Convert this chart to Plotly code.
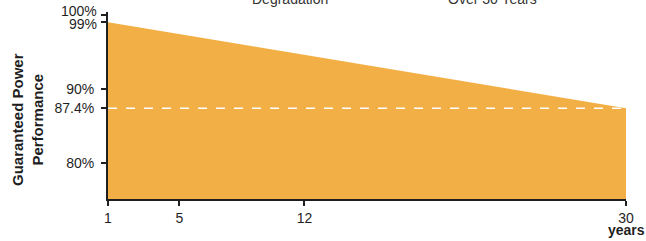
import plotly.graph_objects as go

# Data
years = [1, 30]
performance = [99.0, 87.4]
guarantee = 87.4
x_ticks = [1, 5, 12, 30]
x_tick_text = ["1", "5", "12", "30"]
y_ticks = [80, 87.4, 90]
y_tick_text = ["80%", "87.4%", "90%"]
y_top_labels = [(100, "100%", 4), (99, "99%", -2)]
top_texts = [("Degradation", 290), ("Over 30 Years", 492)]

W, H = 646, 241
ML, MR, MT, MB = 108, 20, 12, 42
PW = W - ML - MR
PH = H - MT - MB

FONT = "Liberation Sans, Arial, sans-serif"
INK = "#1f1f1f"

fig = go.Figure()
fig.add_trace(go.Scatter(
    x=years, y=performance, mode="lines", fill="tozeroy",
    line=dict(color="#F2AF46", width=0), fillcolor="#F2AF46",
    hoverinfo="skip", showlegend=False,
))
fig.add_hline(y=guarantee, line=dict(color="white", width=1.5, dash="dash"))

fig.update_layout(
    width=W, height=H,
    margin=dict(l=ML, r=MR, t=MT, b=MB, pad=0),
    paper_bgcolor="white", plot_bgcolor="white",
    font=dict(family=FONT, size=14, color=INK),
    showlegend=False,
    xaxis=dict(
        range=[1, 30], tickvals=x_ticks, ticktext=x_tick_text,
        showline=True, linecolor=INK, linewidth=2,
        ticks="outside", ticklen=5, tickwidth=1.5, tickcolor=INK,
        showgrid=False, zeroline=False, fixedrange=True,
        tickfont=dict(size=14, color=INK), ticklabelstandoff=0,
    ),
    yaxis=dict(
        range=[75.14, 100.4], tickvals=y_ticks + [v for v, _, _ in y_top_labels],
        ticktext=y_tick_text + ["" for _ in y_top_labels],
        showline=True, linecolor=INK, linewidth=2,
        ticks="outside", ticklen=5, tickwidth=1.5, tickcolor=INK,
        showgrid=False, zeroline=False, fixedrange=True,
        tickfont=dict(size=14, color=INK), ticklabelstandoff=4,
    ),
)

for v, txt, shift in y_top_labels:
    fig.add_annotation(
        x=0, xref="paper", y=v, yref="y", text=txt, showarrow=False,
        xanchor="right", yanchor="middle", xshift=-9, yshift=shift,
        font=dict(size=14, color=INK),
    )

fig.add_annotation(
    x=(27 - ML) / PW, xref="paper", y=(H - MB - 120) / PH, yref="paper",
    text="<b>Guaranteed Power<br>Performance</b>", textangle=-90,
    showarrow=False, xanchor="center", yanchor="middle",
    font=dict(size=15, color=INK),
)

fig.add_annotation(
    x=30, xref="x", y=0, yref="paper", text="<b>years</b>", showarrow=False,
    xanchor="center", yanchor="top", yshift=-21,
    font=dict(size=14, color=INK),
)

for txt, px in top_texts:
    fig.add_annotation(
        x=(px - ML) / PW, xref="paper", y=1 + (MT + 1) / PH, yref="paper",
        text=txt, showarrow=False, xanchor="center", yanchor="middle",
        font=dict(size=14, color="#333333"),
    )

fig.write_html(
    "out.html",
    config={"displayModeBar": False},
    post_script="document.body.style.margin='0px';document.body.style.overflow='hidden';",
)
